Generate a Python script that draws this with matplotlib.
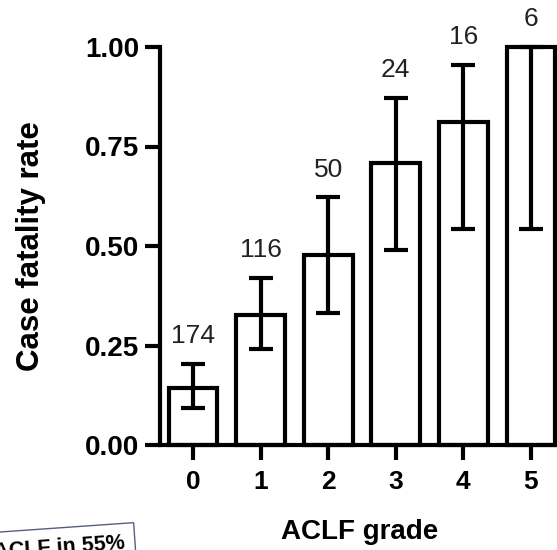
import matplotlib
matplotlib.use("Agg")
import matplotlib.pyplot as plt
import numpy as np

plt.rcParams.update({"font.family": ["Liberation Sans", "DejaVu Sans"]})

grades = ["0", "1", "2", "3", "4", "5"]
fatality = [0.143, 0.327, 0.477, 0.709, 0.812, 1.00]
err_low = [0.093, 0.242, 0.332, 0.490, 0.542, 0.542]
err_high = [0.203, 0.420, 0.622, 0.872, 0.955, 1.00]
counts = ["174", "116", "50", "24", "16", "6"]

LW = 3.0

fig = plt.figure(figsize=(5.57, 5.50), dpi=100)
ax = fig.add_axes([160 / 557, 1 - 445 / 550, 400 / 557, 398 / 550])

x = np.arange(len(grades))
ax.bar(x, fatality, width=0.72, facecolor="white", edgecolor="black",
       linewidth=LW, zorder=2, clip_on=False)
yerr = [np.array(fatality) - np.array(err_low), np.array(err_high) - np.array(fatality)]
ax.errorbar(x, fatality, yerr=yerr, fmt="none", ecolor="black",
            elinewidth=LW, capsize=8.5, capthick=LW, zorder=3, clip_on=False)

for xi, top, n in zip(x, err_high, counts):
    ax.text(xi, top + 0.04, n, ha="center", va="bottom", fontsize=19,
            color="#222222", clip_on=False)

ax.set_xlim(-0.49, 5.43)
ax.set_ylim(0, 1.0)
ax.set_yticks([0, 0.25, 0.5, 0.75, 1.0])
ax.set_yticklabels(["0.00", "0.25", "0.50", "0.75", "1.00"])
ax.set_xticks(x)
ax.set_xticklabels(grades)
for lab in ax.get_yticklabels():
    lab.set_fontweight("bold")
    lab.set_fontsize(20)
for lab in ax.get_xticklabels():
    lab.set_fontweight("bold")
    lab.set_fontsize(19)
ax.tick_params(axis="both", width=LW, length=11, pad=4)
ax.tick_params(axis="x", length=11, pad=7)
for side in ("top", "right"):
    ax.spines[side].set_visible(False)
for side in ("left", "bottom"):
    ax.spines[side].set_linewidth(LW)

ax.set_ylabel("Case fatality rate", fontsize=22.5, fontweight="bold", labelpad=28)
ax.set_xlabel("ACLF grade", fontsize=20, fontweight="bold", labelpad=18)

fig.text(-0.012, 1 - 533 / 550, "ACLF in 55%", fontsize=15.5, fontweight="bold",
         rotation=4, ha="left", va="top",
         bbox=dict(boxstyle="square,pad=0.45", facecolor="white",
                   edgecolor="#556080", linewidth=1.0))

fig.savefig("out.png", dpi=100)
